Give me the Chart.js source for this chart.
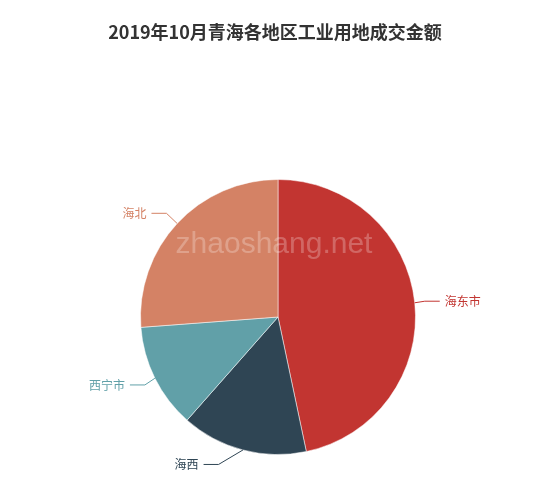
<!DOCTYPE html>
<html>
<head>
<meta charset="utf-8">
<script src="https://cdn.jsdelivr.net/npm/chart.js@4/dist/chart.umd.min.js"></script>
<style>
  body { margin: 0; background: #fff; }
  #box { position: relative; width: 550px; height: 490px; }
  #title { position: absolute; left: 0; top: 19px; width: 550px; text-align: center;
           font: bold 18px 'Noto Sans CJK SC', sans-serif; color: #333; line-height: 24px; }
  canvas { position: absolute; left: 0; top: 0; }
</style>
</head>
<body>
<div id="box">
  <canvas id="js--chart" width="550" height="490"></canvas>
  <div id="title"></div>
</div>
<script>
const regions = ["海东市", "海西", "西宁市", "海北"];
const amounts = [46.7, 14.8, 12.3, 26.2];
const colors = ["#c23531", "#2f4554", "#61a0a8", "#d48265"];
const titleText = "2019年10月青海各地区工业用地成交金额";
const font = "'Noto Sans CJK SC', 'Noto Sans', sans-serif";

document.getElementById("title").textContent = titleText;

// labels with two-part leader lines, placed like echarts does
const pieLabels = {
  id: "pieLabels",
  afterDatasetsDraw(chart) {
    const ctx = chart.ctx;
    const arcs = chart.getDatasetMeta(0).data;
    ctx.save();
    ctx.font = "12px " + font;
    ctx.textBaseline = "middle";
    ctx.lineWidth = 1;
    arcs.forEach(function(arc, i) {
      const p = arc.getProps(["x", "y", "startAngle", "endAngle", "outerRadius"]);
      const mid = (p.startAngle + p.endAngle) / 2;
      const cos = Math.cos(mid), sin = Math.sin(mid);
      const r = p.outerRadius;
      const side = cos < 0 ? -1 : 1;
      const x1 = p.x + r * cos, y1 = p.y + r * sin;
      const y2 = p.y + (r + 15) * sin;
      const dy = Math.abs(y2 - p.y);
      const dx = Math.sqrt(Math.max((r + 30) * (r + 30) - dy * dy, 0));
      const textX = p.x + side * dx;
      const x3 = textX - side * 5;
      const x2 = x3 - side * 15;
      ctx.strokeStyle = colors[i];
      ctx.beginPath();
      ctx.moveTo(x1, y1);
      ctx.lineTo(x2, y2);
      ctx.lineTo(x3, y2);
      ctx.stroke();
      ctx.fillStyle = colors[i];
      ctx.textAlign = side < 0 ? "right" : "left";
      ctx.fillText(regions[i], textX, y2);
    });
    // watermark
    ctx.font = "30px 'Liberation Sans', Arial, sans-serif";
    ctx.textAlign = "center";
    ctx.textBaseline = "alphabetic";
    ctx.fillStyle = "rgba(255,255,255,0.25)";
    ctx.fillText("zhaoshang.net", 274, 253);
    ctx.restore();
  }
};

const data = {
  labels: regions,
  datasets: [
    {
      data: amounts,
      backgroundColor: colors,
      borderColor: "rgba(255,255,255,0.5)",
      borderWidth: 1,
    }
  ]
};

const config = {
  type: "pie",
  data: data,
  options: {
    responsive: false,
    animation: false,
    layout: {
      padding: { top: 179, bottom: 35, left: 140, right: 134 }
    },
    plugins: {
      legend: { display: false },
      tooltip: { enabled: false },
      title: { display: false }
    }
  },
  plugins: [pieLabels]
};

new Chart(document.getElementById("js--chart"), config);
</script>
</body>
</html>
